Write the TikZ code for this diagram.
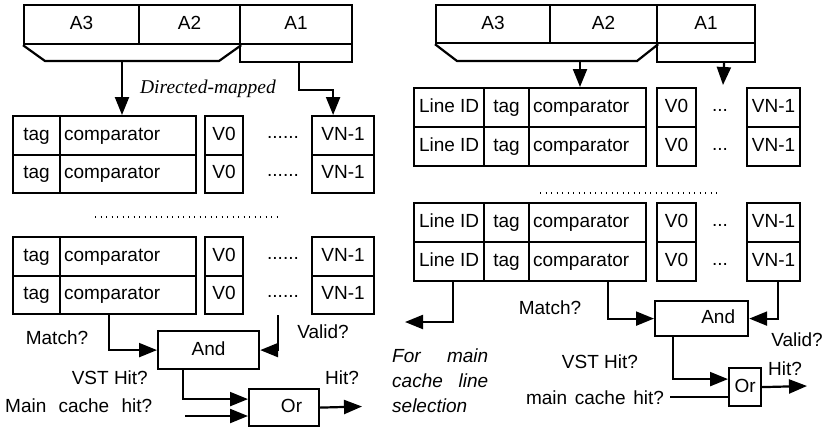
\documentclass[tikz,border=0pt]{standalone}
\usepackage{fontspec}
\setmainfont{Liberation Sans}
\newfontfamily\dirfont{Liberation Serif}
\usetikzlibrary{arrows.meta,calc}

\begin{document}
\begin{tikzpicture}[x=1pt,y=-1pt,
  every node/.style={font=\fontsize{19}{23}\selectfont},
  cell/.style={draw,line width=2.2pt,inner sep=0pt,anchor=north west,text height=13.8pt,text depth=4pt},
  cmp/.style={cell,inner xsep=4pt,align=left},
  wire/.style={line width=2.2pt},
  arr/.style={line width=2.2pt,-{Triangle[length=18pt,width=14pt]}},
  dots/.style={line width=1.4pt,dash pattern=on 1.4pt off 4.1pt}]
\useasboundingbox (0,0) rectangle (824,431);

% left: address fields
\node[cell,minimum width=115,minimum height=39] (LA3) at (23,4) {A3};
\node[cell,minimum width=101,minimum height=39] (LA2) at (138,4) {A2};
\node[cell,minimum width=112,minimum height=39] (LA1) at (239,4) {A1};
\node[cell,minimum width=112,minimum height=18,text height=0pt,text depth=0pt] (LA1b) at (239,43) {};
\coordinate[] (LT1) at (45,61);
\coordinate[] (LT2) at (219,61);
\coordinate[] (LTm) at (122,61);
\draw[wire] (LA3.south west) -- (LT1) -- (LT2) -- (LA2.south east);

% left: lines
\foreach \y/\n in {115/1,153.5/2,236/3,274.5/4}{
  \node[cell,minimum width=47,minimum height=38.5] (Ltag\n) at (12,\y) {tag};
  \node[cmp,text width=128,minimum height=38.5] (Lcmp\n) at (59,\y) {comparator};
  \node[cell,minimum width=38,minimum height=38.5] (Lv\n) at (204,\y) {V0};
  \node[inner sep=0pt] (Ldot\n) at (283,\y+22) {......};
  \node[cell,minimum width=62,minimum height=38.5] (Lvn\n) at (311,\y) {VN-1};
}
\coordinate[] (LD1) at (95,217);
\coordinate[] (LD2) at (278,217);
\draw[dots] (LD1) -- (LD2);

\draw[arr] (LTm) -- (LTm |- Lcmp1.north);
\draw[arr] ([shift={(3,0)}]LA1b.south) -- ++(0,27) -| ([shift={(-10,0)}]Lvn1.north);
\node[font=\dirfont\itshape\fontsize{19.5}{23}\selectfont] (LDir) at (208,89) {Directed-mapped};

% left: hit logic
\node[cell,minimum width=101,minimum height=38] (LAnd) at (157,330) {And};
\node[cell,minimum width=70,minimum height=37,text width=36,inner xsep=17pt,align=right] (LOr) at (248,388) {Or};
\coordinate[] (LVal) at (278,315);
\coordinate[] (LMc) at (185,416);
\coordinate[] (LOut) at (362,406.5);
\draw[arr] ([shift={(-19,0)}]Lcmp4.south) |- (LAnd.west);
\draw[arr] (LVal) |- (LAnd.east);
\draw[arr] ([shift={(-25.5,0)}]LAnd.south) |- ([shift={(0,-8.5)}]LOr.west);
\draw[arr] (LMc) -- (LMc -| LOr.west);
\draw[arr] (LOr.east) -- (LOut);
\node (LMatch) at (57,338) {Match?};
\node (LValid) at (323,332) {Valid?};
\node[anchor=east,inner xsep=0pt] (LVst) at (148,378) {VST Hit?};
\node (LHit) at (342,378) {Hit?};
\node[anchor=west,inner xsep=0pt] (LMain) at (5,406) {\hbox to 147pt{Main\hfil cache\hfil hit?}};

% right: address fields
\node[cell,minimum width=114,minimum height=38] (RA3) at (435,4) {A3};
\node[cell,minimum width=107,minimum height=38] (RA2) at (549,4) {A2};
\node[cell,minimum width=98,minimum height=38] (RA1) at (656,4) {A1};
\node[cell,minimum width=98,minimum height=19,text height=0pt,text depth=0pt] (RA1b) at (656,42) {};
\coordinate[] (RT1) at (457,61);
\coordinate[] (RT2) at (637,61);
\coordinate[] (RTm) at (580,61);
\draw[wire] (RA3.south west) -- (RT1) -- (RT2) -- (RA2.south east);

% right: lines
\foreach \y/\n in {87/1,126/2,202/3,241/4}{
  \node[cell,minimum width=70,minimum height=39] (Rlid\n) at (413,\y) {Line ID};
  \node[cell,minimum width=45,minimum height=39] (Rtag\n) at (483,\y) {tag};
  \node[cmp,text width=109,minimum height=39] (Rcmp\n) at (528,\y) {comparator};
  \node[cell,minimum width=39,minimum height=39] (Rv\n) at (656,\y) {V0};
  \node[inner sep=0pt] (Rdot\n) at (720,\y+23) {...};
  \node[cell,minimum width=53,minimum height=39] (Rvn\n) at (746,\y) {VN-1};
}
\coordinate[] (RD1) at (540,193);
\coordinate[] (RD2) at (719,193);
\draw[dots] (RD1) -- (RD2);

\coordinate[] (RDots) at (723,85);
\draw[arr] (RTm) -- (RTm |- Rcmp1.north);
\draw[arr] ([shift={(18,0)}]RA1b.south) -- (RDots);

% right: hit logic
\node[cell,minimum width=93,minimum height=35,text width=67,inner xsep=13pt,align=right] (RAnd) at (654,300) {And};
\node[cell,minimum width=32,minimum height=38] (ROr) at (728,367) {Or};
\coordinate[] (RSel) at (405,322);
\coordinate[] (RMc) at (670,397);
\coordinate[] (ROut) at (807,386);
\draw[arr] ([shift={(4,0)}]Rlid4.south) |- (RSel);
\draw[arr] ([shift={(20,0)}]Rcmp4.south) |- (RAnd.west);
\draw[arr] ([shift={(4.5,0)}]Rvn4.south) |- (RAnd.east);
\draw[arr] ([shift={(-28.5,0)}]RAnd.south) |- ([shift={(0,-8)}]ROr.west);
\draw[wire] (RMc) -- (RMc -| ROr.west);
\draw[arr] (ROr.east) -- (ROut);
\node (RMatch) at (550,308) {Match?};
\node (RValid) at (797,340) {Valid?};
\node (RVst) at (600,362) {VST Hit?};
\node (RHit) at (785,369) {Hit?};
\node (RMain) at (595,398) {\hbox to 138pt{main\hfil cache\hfil hit?}};
\node[anchor=north west,inner sep=0pt,text width=96,align=left,font=\itshape\fontsize{19}{25}\selectfont] (RSelTxt) at (392,349)
  {\leavevmode\hbox to 96pt{For\hfil main}\\\leavevmode\hbox to 96pt{cache\hfil line}\\selection};
\end{tikzpicture}
\end{document}
